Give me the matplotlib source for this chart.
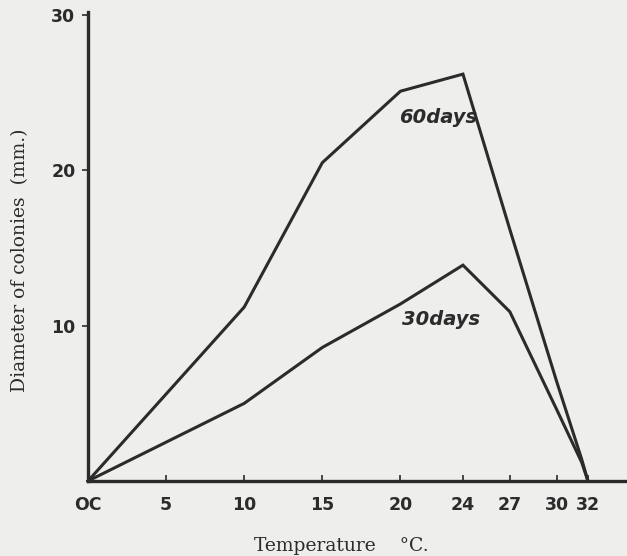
import matplotlib.pyplot as plt

# temperature (deg C) and colony diameter (mm)
temp_60 = [0, 10, 15, 20, 24, 27, 30, 31.6, 32]
diam_60 = [0, 11.2, 20.5, 25.1, 26.2, 16.2, 6.4, 1.4, 0]
temp_30 = [0, 10, 15, 20, 24, 27, 30, 31.6, 32]
diam_30 = [0, 5.0, 8.6, 11.4, 13.9, 10.9, 4.6, 1.2, 0]

xticks = [0, 5, 10, 15, 20, 24, 27, 30, 32]
xlabels = ['OC', '5', '10', '15', '20', '24', '27', '30', '32']
yticks = [10, 20, 30]

ink = '#2b2b2b'
paper = '#eeeeec'

fig = plt.figure(figsize=(6.27, 5.56), dpi=100, facecolor=paper)
ax = fig.add_axes([88 / 627, 1 - 481 / 556, 1 - 88 / 627, (481 - 12) / 556])
ax.set_facecolor(paper)

ax.plot(temp_60, diam_60, color=ink, lw=2.2, solid_joinstyle='miter', clip_on=False)
ax.plot(temp_30, diam_30, color=ink, lw=2.2, solid_joinstyle='miter', clip_on=False)

ax.text(22.4, 23.4, '60days', fontsize=14, fontweight='bold', fontstyle='italic',
        color=ink, ha='center', va='center', family='DejaVu Sans')
ax.text(22.6, 10.4, '30days', fontsize=14, fontweight='bold', fontstyle='italic',
        color=ink, ha='center', va='center', family='DejaVu Sans')

ax.set_xlim(0, 34.5)
ax.set_ylim(0, 30.2)
for s in ['top', 'right']:
    ax.spines[s].set_visible(False)
for s in ['left', 'bottom']:
    ax.spines[s].set_linewidth(2.4)
    ax.spines[s].set_color(ink)

ax.set_xticks(xticks)
ax.set_xticklabels(xlabels, fontsize=12.5, fontweight='bold', color=ink)
ax.set_yticks(yticks)
ax.set_yticklabels([str(v) for v in yticks], fontsize=12.5, fontweight='bold', color=ink)
ax.tick_params(axis='x', direction='in', length=4, width=1.2, color=ink, pad=11)
ax.tick_params(axis='y', direction='out', length=4, width=1.2, color=ink, pad=5)

ax.set_xlabel('Temperature    \u00b0C.', fontsize=13.5, family='DejaVu Serif',
              color=ink)
ax.xaxis.set_label_coords(0.47, -0.12)
ax.set_ylabel('Diameter of colonies  (mm.)', fontsize=13.5, family='DejaVu Serif',
              color=ink)
ax.yaxis.set_label_coords(-0.11, 0.47)

fig.savefig('out.png', dpi=100, facecolor=paper)
